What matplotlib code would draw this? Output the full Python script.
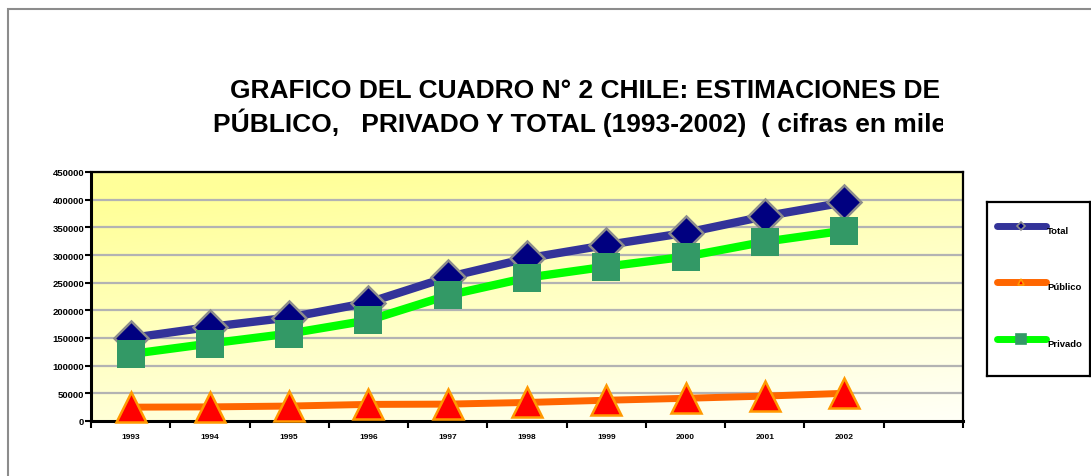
import numpy as np
import matplotlib
matplotlib.use('Agg')
from matplotlib import pyplot as plt
from matplotlib.patches import Rectangle
from matplotlib.transforms import Bbox

years = ['1993', '1994', '1995', '1996', '1997', '1998', '1999', '2000', '2001', '2002']
total = [150000, 170000, 187000, 214000, 260000, 294000, 318000, 340000, 370000, 395000]
publico = [25000, 25500, 27000, 30000, 30500, 33500, 37500, 41000, 45000, 50000]
privado = [121000, 140000, 158000, 182000, 227000, 259000, 279000, 297000, 324000, 344000]
y_ticks = [0, 50000, 100000, 150000, 200000, 250000, 300000, 350000, 400000, 450000]

plt.rcParams['font.family'] = ['Liberation Sans', 'DejaVu Sans']

W, H = 1091, 477
fig = plt.figure(figsize=(W / 100, H / 100), dpi=100)

# outer chart frame (gray)
fig.patches.append(Rectangle((8 / W, -0.1), 1.2, (H - 10) / H + 0.1, transform=fig.transFigure,
                             fill=False, edgecolor='#8c8c8c', linewidth=1.5))

# title, cut off on the right like the original
title1 = fig.text(230 / W, 1 - 91 / H, 'GRAFICO DEL CUADRO N° 2 CHILE: ESTIMACIONES DE',
                  fontsize=19, fontweight='bold', va='center', ha='left')
title2 = fig.text(213 / W, 1 - 123 / H, 'PÚBLICO,   PRIVADO Y TOTAL (1993-2002)  ( cifras en miles',
                  fontsize=19, fontweight='bold', va='center', ha='left')
clip = Bbox.from_extents(0, 0, 943, H)
for t in (title1, title2):
    t.set_clip_box(clip)
    t.set_clip_on(True)

ax = fig.add_axes([91 / W, 1 - 422 / H, (963 - 91) / W, (422 - 173) / H])
x = np.arange(len(years))

# gradient background: yellow top-left, almost white bottom-right
gx, gy = np.meshgrid(np.linspace(0, 1, 300), np.linspace(0, 1, 200))
g = np.clip(0.35 * (1 - gx) + 0.75 * gy, 0, 1)
top = np.array([1.0, 1.0, 0.6])
bot = np.array([1.0, 1.0, 0.97])
img = bot + (top - bot) * g[..., None]
ax.imshow(img, extent=(-0.5, 10.5, 0, 450000), origin='lower', aspect='auto', zorder=0)

for v in y_ticks[1:]:
    ax.axhline(v, color='#b3b3b3', lw=1.6, zorder=1)

ax.plot(x, total, color='#333399', lw=6, marker='D', ms=17, mfc='#000080',
        mec='#8c8c8c', mew=1.8, zorder=3, clip_on=False)
ax.plot(x, publico, color='#ff6600', lw=5, marker='^', ms=22, mfc='#ff0000',
        mec='#ff9900', mew=1.8, zorder=4, clip_on=False)
ax.plot(x, privado, color='#00ff00', lw=6, marker='s', ms=20, mfc='#339966',
        mec='#339966', mew=0, zorder=5, clip_on=False)

ax.set_xlim(-0.5, 10.5)
ax.set_ylim(0, 450000)
ax.set_xticks(np.arange(-0.5, 11, 1))
ax.set_xticklabels([])
ax.set_xticks(x, minor=True)
ax.set_xticklabels(years, minor=True, fontsize=6, fontweight='bold')
ax.tick_params(axis='x', which='minor', length=0, pad=9)
ax.tick_params(axis='x', which='major', length=5, width=1.5, direction='out')
ax.set_yticks(y_ticks)
ax.set_yticklabels([str(v) for v in y_ticks], fontsize=6.8, fontweight='bold')
ax.tick_params(axis='y', length=4, width=1.5, pad=1)
for side in ['left', 'bottom']:
    ax.spines[side].set_linewidth(2.2)
for side in ['top', 'right']:
    ax.spines[side].set_linewidth(1.6)

# legend box
lax = fig.add_axes([987 / W, 1 - 377 / H, (1090 - 987) / W, (377 - 203) / H])
lax.set_xlim(0, 1)
lax.set_ylim(0, 1)
lax.set_xticks([])
lax.set_yticks([])
for s in lax.spines.values():
    s.set_linewidth(1.6)
entries = [('Total', '#333399', 'D', '#000080', '#8c8c8c', 4),
           ('Público', '#ff6600', '^', '#ff0000', '#ff9900', 5),
           ('Privado', '#00ff00', 's', '#339966', '#339966', 7)]
ys = [1 - (227 - 203) / 174, 1 - (283 - 203) / 174, 1 - (340 - 203) / 174]
for (lab, lc, mk, fc, ec, ms), yy in zip(entries, ys):
    lax.plot([0.1, 0.57], [yy, yy], color=lc, lw=5, solid_capstyle='round')
    lax.plot([0.33], [yy], marker=mk, ms=ms, mfc=fc, mec=ec, mew=1.2, ls='none')
    lax.text(0.585, yy - 0.025, lab, fontsize=6.8, fontweight='bold', va='center', ha='left')

fig.savefig('out.png', dpi=100)
